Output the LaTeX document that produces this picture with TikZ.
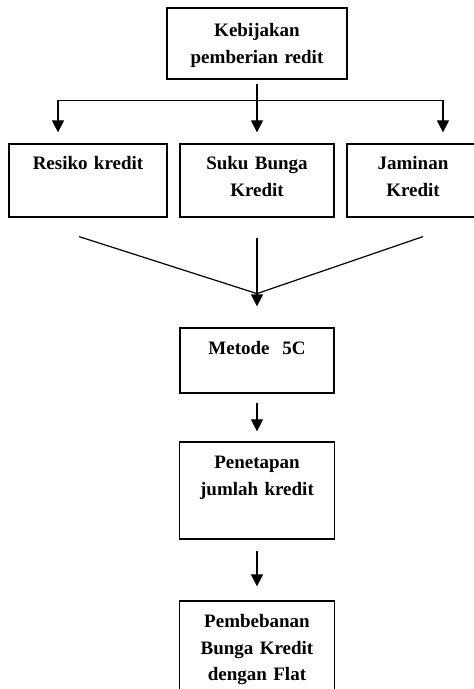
\documentclass[tikz,border=0pt]{standalone}
\usepackage{fontspec}
\setmainfont{Liberation Serif}
\usepackage{tikz}
\usetikzlibrary{shapes,arrows,positioning,calc,arrows.meta}

\begin{document}
\begin{tikzpicture}[x=1pt, y=1pt,
    kotak/.style={rectangle, draw, line width=1.2pt, inner sep=0pt, align=center,
        font=\bfseries\fontsize{19}{26.5}\selectfont},
    panah/.style={-{Triangle[width=12pt,length=12pt]}, line width=1.2pt}]
            \useasboundingbox (0,0) rectangle (474,689);
            \clip (0,0) rectangle (474,689);

            \node (kebijakan) [kotak, text width=180pt, text height=29pt, text depth=42pt] at (257,645.5) {Kebijakan\\pemberian redit};
            \node (suku) [kotak, text width=154pt, text height=26pt, text depth=47pt, below of=kebijakan, node distance=137pt] {Suku Bunga\\Kredit};
            \node (resiko) [kotak, text width=158pt, text height=26pt, text depth=47pt, left of=suku, node distance=169pt] {Resiko kredit};
            \node (jaminan) [kotak, text width=132pt, text height=26pt, text depth=47pt, right of=suku, node distance=156pt] {Jaminan\\Kredit};
            \node (metode) [kotak, text width=154pt, text height=27pt, text depth=38pt, below of=suku, node distance=180pt] {Metode\ \ 5C};
            \node (penetapan) [kotak, text width=155pt, text height=27pt, text depth=70pt, below of=metode, node distance=130pt] {Penetapan\\jumlah kredit};
            \node (pembebanan) [kotak, text width=155pt, text height=27pt, text depth=82pt, below of=penetapan, node distance=165pt] {Pembebanan\\Bunga Kredit\\dengan Flat};

            \coordinate (cabang) at ($(kebijakan.south)+(0,-21)$);
            \coordinate (temu) at ($(suku.south)+(0,-76)$);

            \draw [panah, shorten <=4pt, shorten >=11pt] (kebijakan) -- (suku);
            \draw [panah, shorten >=11pt] (cabang) -| ([xshift=-30pt]resiko.north);
            \draw [panah, shorten >=11pt] (cabang) -| ([xshift=30pt]jaminan.north);

            \draw [line width=1.2pt] ([shift={(-9pt,-19pt)}]resiko.south) -- (temu);
            \draw [line width=1.2pt] ([shift={(10pt,-19pt)}]jaminan.south) -- (temu);
            \draw [panah, shorten <=20pt, shorten >=21pt] (suku) -- (metode);
            \draw [panah, shorten <=9pt, shorten >=10pt] (metode) -- (penetapan);
            \draw [panah, shorten <=11pt, shorten >=14pt] (penetapan) -- (pembebanan);
        \end{tikzpicture}
\end{document}
